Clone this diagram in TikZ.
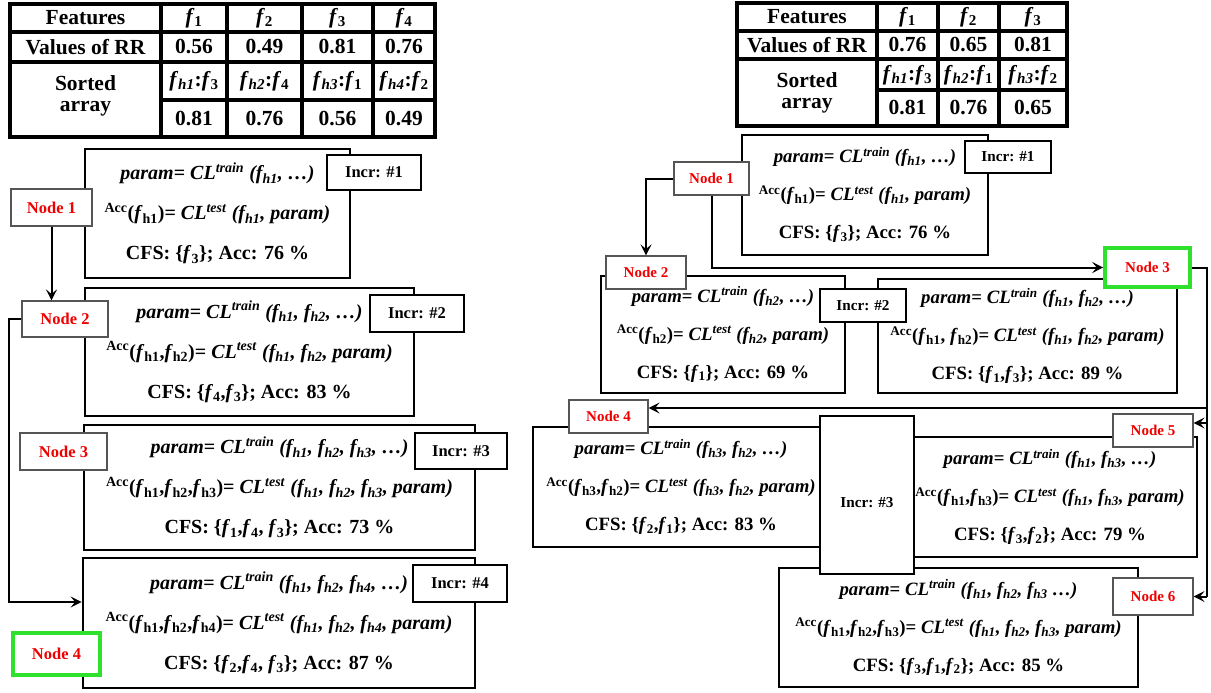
\documentclass[tikz,border=0pt]{standalone}
\usepackage{fontspec}
\setmainfont{Liberation Serif}
\usetikzlibrary{arrows.meta}
\definecolor{ngreen}{RGB}{45,225,45}
\definecolor{nborder}{RGB}{85,85,85}
\definecolor{nred}{RGB}{240,0,0}
\newcommand{\fsub}[1]{\textit{f}\textsubscript{#1}}
\newcommand{\fhi}[1]{\textit{f}\textsubscript{\textit{h#1}}}
\newcommand{\fhu}[1]{\textit{f}\textsubscript{h#1}}
\newcommand{\CLtrain}{\textit{CL}\textsuperscript{\textit{train}}}
\newcommand{\CLtest}{\textit{CL}\textsuperscript{\textit{test}}}
\newcommand{\accsup}{\textsuperscript{Acc}}
\begin{document}
\begin{tikzpicture}[x=1pt,y=-1pt,
  tline/.style={line width=3.2pt},
  tout/.style={line width=4.4pt},
  tcell/.style={inner sep=0pt, font=\fontsize{21.5}{24}\selectfont\bfseries},
  tcell2/.style={inner sep=0pt, align=center, font=\fontsize{21.5}{21}\selectfont\bfseries},
  lbox/.style={draw, line width=2.8pt, inner sep=0pt, align=center, font=\fontsize{20}{40}\selectfont\bfseries},
  rbox/.style={draw, line width=2.4pt, inner sep=0pt, align=center, font=\fontsize{18.8}{38}\selectfont\bfseries},
  lincr/.style={draw, fill=white, line width=2.4pt, inner sep=0pt, font=\fontsize{16.5}{20}\selectfont\bfseries},
  rincr/.style={draw, fill=white, line width=2pt, inner sep=0pt, font=\fontsize{15.2}{20}\selectfont\bfseries},
  lnl/.style={draw=nborder, fill=white, line width=1.1pt, inner sep=0pt, text=nred, font=\fontsize{16.5}{20}\selectfont\bfseries},
  rnl/.style={draw=nborder, fill=white, line width=1.1pt, inner sep=0pt, text=nred, font=\fontsize{15}{20}\selectfont\bfseries},
  good/.style={draw=ngreen, line width=3.6pt},
  conn/.style={line width=2pt},
  arr/.style={conn, -{Stealth[length=11pt,width=11pt,inset=4.5pt]}}
]
\useasboundingbox (0,0) rectangle (1211,693);
\fill[white] (0,0) rectangle (1211,693);

% ---------- left table ----------
\draw[tline] (161,4) -- (161,137) (227,4) -- (227,137) (302,4) -- (302,137) (373,4) -- (373,137);
\draw[tline] (10,32) -- (435,32) (10,62) -- (435,62) (161,100) -- (435,100);
\draw[tout] (10,4) rectangle (435,137);
\node[tcell] (lt00) at (85.5,18) {Features};
\node[tcell] (lt01) at (194,18) {\fsub{1}};
\node[tcell] (lt02) at (264.5,18) {\fsub{2}};
\node[tcell] (lt03) at (337.5,18) {\fsub{3}};
\node[tcell] (lt04) at (404,18) {\fsub{4}};
\node[tcell] (lt10) at (85.5,47) {Values of RR};
\node[tcell] (lt11) at (194,47) {0.56};
\node[tcell] (lt12) at (264.5,47) {0.49};
\node[tcell] (lt13) at (337.5,47) {0.81};
\node[tcell] (lt14) at (404,47) {0.76};
\node[tcell2] (lt20) at (85.5,96) {Sorted\\array};
\node[tcell] (lt21) at (194,81) {\fhi{1}:\fsub{3}};
\node[tcell] (lt22) at (264.5,81) {\fhi{2}:\fsub{4}};
\node[tcell] (lt23) at (337.5,81) {\fhi{3}:\fsub{1}};
\node[tcell] (lt24) at (404,81) {\fhi{4}:\fsub{2}};
\node[tcell] (lt31) at (194,119) {0.81};
\node[tcell] (lt32) at (264.5,119) {0.76};
\node[tcell] (lt33) at (337.5,119) {0.56};
\node[tcell] (lt34) at (404,119) {0.49};

% ---------- right table ----------
\draw[tline] (877,3) -- (877,126) (938,3) -- (938,126) (999,3) -- (999,126);
\draw[tline] (737,31) -- (1067,31) (737,59) -- (1067,59) (877,90) -- (1067,90);
\draw[tout] (737,3) rectangle (1067,126);
\node[tcell] (rt00) at (807,17) {Features};
\node[tcell] (rt01) at (907.5,17) {\fsub{1}};
\node[tcell] (rt02) at (968.5,17) {\fsub{2}};
\node[tcell] (rt03) at (1033,17) {\fsub{3}};
\node[tcell] (rt10) at (807,45) {Values of RR};
\node[tcell] (rt11) at (907.5,45) {0.76};
\node[tcell] (rt12) at (968.5,45) {0.65};
\node[tcell] (rt13) at (1033,45) {0.81};
\node[tcell2] (rt20) at (807,92.5) {Sorted\\array};
\node[tcell] (rt21) at (907.5,75) {\fhi{1}:\fsub{3}};
\node[tcell] (rt22) at (968.5,75) {\fhi{2}:\fsub{1}};
\node[tcell] (rt23) at (1033,75) {\fhi{3}:\fsub{2}};
\node[tcell] (rt31) at (907.5,108) {0.81};
\node[tcell] (rt32) at (968.5,108) {0.76};
\node[tcell] (rt33) at (1033,108) {0.65};

% ---------- left boxes ----------
\node[lbox, minimum width=265pt, minimum height=129pt] (B1) at (217.5,213.5)
 {\textit{param}= \CLtrain{} \textit{(\fhi{1}, …)}\\
  \accsup(\fhu{1})= \CLtest{} \textit{(\fhi{1}, param)}\\
  CFS: \{\fsub{3}\}; Acc: 76 \%};
\node[lbox, minimum width=329pt, minimum height=128pt] (B2) at (249.5,352)
 {\textit{param}= \CLtrain{} \textit{(\fhi{1}, \fhi{2}, …)}\\
  \accsup(\fhu{1},\fhu{2})= \CLtest{} \textit{(\fhi{1}, \fhi{2}, param)}\\
  CFS: \{\fsub{4},\fsub{3}\}; Acc: 83 \%};
\node[lbox, minimum width=391pt, minimum height=125pt] (B3) at (279.5,487.5)
 {\textit{param}= \CLtrain{} \textit{(\fhi{1}, \fhi{2}, \fhi{3}, …)}\\
  \accsup(\fhu{1},\fhu{2},\fhu{3})= \CLtest{} \textit{(\fhi{1}, \fhi{2}, \fhi{3}, param)}\\
  CFS: \{\fsub{1},\fsub{4}, \fsub{3}\}; Acc: 73 \%};
\node[lbox, minimum width=392pt, minimum height=130pt] (B4) at (279,623)
 {\textit{param}= \CLtrain{} \textit{(\fhi{1}, \fhi{2}, \fhi{4}, …)}\\
  \accsup(\fhu{1},\fhu{2},\fhu{4})= \CLtest{} \textit{(\fhi{1}, \fhi{2}, \fhi{4}, param)}\\
  CFS: \{\fsub{2},\fsub{4}, \fsub{3}\}; Acc: 87 \%};

\node[lincr, minimum width=94pt, minimum height=35pt] (I1) at (374,172.5) {Incr: \#1};
\node[lincr, minimum width=94pt, minimum height=37pt] (I2) at (417,313.5) {Incr: \#2};
\node[lincr, minimum width=92pt, minimum height=36pt] (I3) at (461,451) {Incr: \#3};
\node[lincr, minimum width=94pt, minimum height=37pt] (I4) at (460,583.5) {Incr: \#4};

\node[lnl, minimum width=81pt, minimum height=37pt] (L1) at (51.5,207.5) {Node 1};
\node[lnl, minimum width=86pt, minimum height=36pt] (L2) at (65,319) {Node 2};
\node[lnl, minimum width=87pt, minimum height=37pt] (L3) at (63.5,451.5) {Node 3};
\node[lnl, good, minimum width=87pt, minimum height=42pt] (L4) at (56.5,654) {Node 4};

\draw[arr] (L1.south) -- (L1.south |- L2.north);
\draw[arr] (L2.west) -- ++(-12,0) |- ([yshift=21pt]B4.west);

% ---------- right boxes ----------
\node[rbox, minimum width=246pt, minimum height=120pt] (RB1) at (865,195)
 {\textit{param}= \CLtrain{} \textit{(\fhi{1}, …)}\\
  \accsup(\fhu{1})= \CLtest{} \textit{(\fhi{1}, param)}\\
  CFS: \{\fsub{3}\}; Acc: 76 \%};
\node[rbox, minimum width=244pt, minimum height=117pt] (RB2) at (723,334.5)
 {\textit{param}= \CLtrain{} \textit{(\fhi{2}, …)}\\
  \accsup(\fhu{2})= \CLtest{} \textit{(\fhi{2}, param)}\\
  CFS: \{\fsub{1}\}; Acc: 69 \%};
\node[rbox, minimum width=299pt, minimum height=114pt] (RB3) at (1027.5,336)
 {\textit{param}= \CLtrain{} \textit{(\fhi{1}, \fhi{2}, …)}\\
  \accsup(\fhu{1}, \fhu{2})= \CLtest{} \textit{(\fhi{1}, \fhi{2}, param)}\\
  CFS: \{\fsub{1},\fsub{3}\}; Acc: 89 \%};
\node[rbox, minimum width=296pt, minimum height=120pt] (RB4) at (681,487)
 {\textit{param}= \CLtrain{} \textit{(\fhi{3}, \fhi{2}, …)}\\
  \accsup(\fhu{3},\fhu{2})= \CLtest{} \textit{(\fhi{3}, \fhi{2}, param)}\\
  CFS: \{\fsub{2},\fsub{1}\}; Acc: 83 \%};
\node[rbox, minimum width=294pt, minimum height=120pt] (RB5) at (1050,497)
 {\textit{param}= \CLtrain{} \textit{(\fhi{1}, \fhi{3}, …)}\\
  \accsup(\fhu{1},\fhu{3})= \CLtest{} \textit{(\fhi{1}, \fhi{3}, param)}\\
  CFS: \{\fsub{3},\fsub{2}\}; Acc: 79 \%};
\node[rbox, minimum width=359pt, minimum height=119pt] (RB6) at (958.5,627.5)
 {\textit{param}= \CLtrain{} \textit{(\fhi{1}, \fhi{2}, \fhi{3} …)}\\
  \accsup(\fhu{1},\fhu{2},\fhu{3})= \CLtest{} \textit{(\fhi{1}, \fhi{2}, \fhi{3}, param)}\\
  CFS: \{\fsub{3},\fsub{1},\fsub{2}\}; Acc: 85 \%};

\node[rincr, minimum width=86pt, minimum height=32pt] (RI1) at (1008,157) {Incr: \#1};
\node[rincr, minimum width=86pt, minimum height=33pt] (RI2) at (863,305.5) {Incr: \#2};
\node[rincr, minimum width=94pt, minimum height=158pt, text height=24pt, text depth=0pt] (RI3) at (867,495) {Incr: \#3};

\node[rnl, minimum width=75pt, minimum height=33pt] (RN1) at (711.5,178.5) {Node 1};
\node[rnl, minimum width=80pt, minimum height=33pt] (RN2) at (646,272.5) {Node 2};
\node[rnl, good, minimum width=85pt, minimum height=39pt] (RN3) at (1147.5,267.5) {Node 3};
\node[rnl, minimum width=79pt, minimum height=33pt] (RN4) at (608.5,416.5) {Node 4};
\node[rnl, minimum width=80pt, minimum height=33pt] (RN5) at (1153,430.5) {Node 5};
\node[rnl, minimum width=80pt, minimum height=37pt] (RN6) at (1153,596.5) {Node 6};

\coordinate (RV1) at (1207,408);
\coordinate (RV5) at (1207,423);
\coordinate (RV6) at (1207,596.5);
\draw[arr] (RN1.west) -| (RN2.north);
\draw[arr] (RN1.south) |- (RN3.west);
\draw[conn] (RN3.east) -| (RV1) -- (RV6);
\draw[arr] (RV1) -- (RV1 -| RN4.east);
\draw[arr] (RV5) -- (RV5 -| RN5.east);
\draw[arr] (RV6) -- (RN6.east);
\end{tikzpicture}
\end{document}
